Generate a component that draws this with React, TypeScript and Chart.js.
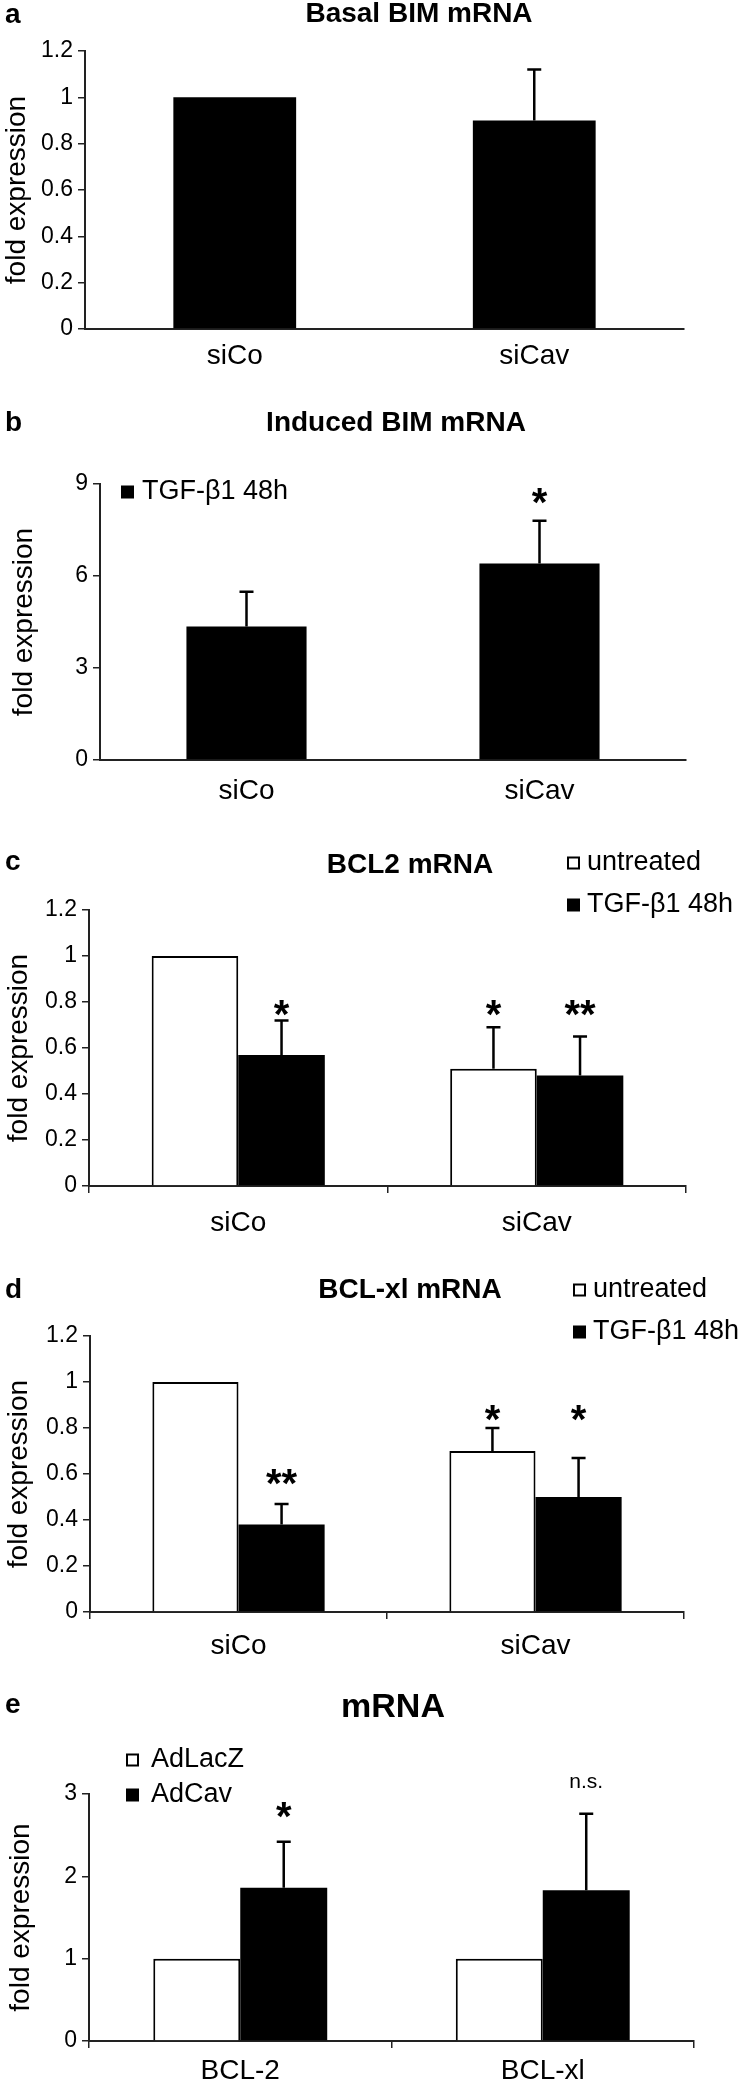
import React, { useEffect, useRef } from "react";
import { Chart, registerables } from "chart.js";

Chart.register(...registerables);

const FONT = '"Liberation Sans", Arial, Helvetica, sans-serif';
const W = 743;

// ---------- data ----------
// Panel a: Basal BIM mRNA
const catsA = ["siCo", "siCav"];
const basalBim = [1.0, 0.9];
const basalBimErr = [0, 0.22];
const yTicksA = [0, 0.2, 0.4, 0.6, 0.8, 1, 1.2];

// Panel b: Induced BIM mRNA
const catsB = ["siCo", "siCav"];
const inducedBim = [4.35, 6.41];
const inducedBimErr = [1.14, 1.39];
const yTicksB = [0, 3, 6, 9];

// Panel c: BCL2 mRNA
const catsC = ["siCo", "siCav"];
const bcl2Untreated = [1.0, 0.51];
const bcl2UntreatedErr = [0, 0.18];
const bcl2Tgf = [0.57, 0.48];
const bcl2TgfErr = [0.15, 0.17];
const yTicksC = [0, 0.2, 0.4, 0.6, 0.8, 1, 1.2];

// Panel d: BCL-xl mRNA
const catsD = ["siCo", "siCav"];
const bclxlUntreated = [1.0, 0.7];
const bclxlUntreatedErr = [0, 0.1];
const bclxlTgf = [0.38, 0.5];
const bclxlTgfErr = [0.09, 0.17];
const yTicksD = [0, 0.2, 0.4, 0.6, 0.8, 1, 1.2];

// Panel e: mRNA (adenoviral)
const catsE = ["BCL-2", "BCL-xl"];
const adLacZ = [1.0, 1.0];
const adLacZErr = [0, 0];
const adCav = [1.86, 1.83];
const adCavErr = [0.56, 0.93];
const yTicksE = [0, 1, 2, 3];

// significance marks (series index, category index, text, level in data units)
const marksB = [{ s: 0, i: 1, text: "*", at: 8.7 }];
const marksC = [
  { s: 1, i: 0, text: "*", at: 0.79 },
  { s: 0, i: 1, text: "*", at: 0.79 },
  { s: 1, i: 1, text: "**", at: 0.79 },
];
const marksD = [
  { s: 1, i: 0, text: "**", at: 0.6 },
  { s: 0, i: 1, text: "*", at: 0.88 },
  { s: 1, i: 1, text: "*", at: 0.88 },
];
const marksE = [
  { s: 1, i: 0, text: "*", at: 2.85 },
  { s: 1, i: 1, text: "n.s.", at: 3.14 },
];

type Series = { label: string; data: number[]; err: number[]; fill: string };
type Mark = { s: number; i: number; text: string; at: number };
type Panel = {
  top: number;
  height: number;
  letter: string;
  letterY: number;
  title: string;
  titleX: number;
  titleY: number;
  titleSize: number;
  cats: string[];
  series: Series[];
  yTicks: number[];
  axisLeft: number;
  axisRight: number;
  plotTop: number;
  plotBottom: number;
  xTickMarks: boolean;
  xLabelPad: number;
  yTitlePad: number;
  catPct: number;
  legend: { x: number; y: number; dy: number; textX: number } | null;
  marks: Mark[];
};

const panels: Panel[] = [
  {
    top: 0, height: 380, letter: "a", letterY: 15,
    title: "Basal BIM mRNA", titleX: 419, titleY: 14, titleSize: 28,
    cats: catsA,
    series: [{ label: "siRNA", data: basalBim, err: basalBimErr, fill: "#000" }],
    yTicks: yTicksA, axisLeft: 85, axisRight: 684, plotTop: 51, plotBottom: 329,
    xTickMarks: false, xLabelPad: 10, yTitlePad: 0, catPct: 0.41,
    legend: null, marks: [],
  },
  {
    top: 380, height: 420, letter: "b", letterY: 43,
    title: "Induced BIM mRNA", titleX: 396, titleY: 43, titleSize: 28,
    cats: catsB,
    series: [{ label: "TGF-β1 48h", data: inducedBim, err: inducedBimErr, fill: "#000" }],
    yTicks: yTicksB, axisLeft: 100, axisRight: 686, plotTop: 104, plotBottom: 380,
    xTickMarks: false, xLabelPad: 14, yTitlePad: 7, catPct: 0.41,
    legend: { x: 121, y: 112, dy: 0, textX: 142 }, marks: marksB,
  },
  {
    top: 800, height: 440, letter: "c", letterY: 62,
    title: "BCL2 mRNA", titleX: 410, titleY: 65, titleSize: 28,
    cats: catsC,
    series: [
      { label: "untreated", data: bcl2Untreated, err: bcl2UntreatedErr, fill: "#fff" },
      { label: "TGF-β1 48h", data: bcl2Tgf, err: bcl2TgfErr, fill: "#000" },
    ],
    yTicks: yTicksC, axisLeft: 89, axisRight: 686, plotTop: 110, plotBottom: 386,
    xTickMarks: true, xLabelPad: 13, yTitlePad: 2, catPct: 0.58,
    legend: { x: 567, y: 63, dy: 42, textX: 587 }, marks: marksC,
  },
  {
    top: 1240, height: 420, letter: "d", letterY: 50,
    title: "BCL-xl mRNA", titleX: 410, titleY: 50, titleSize: 28,
    cats: catsD,
    series: [
      { label: "untreated", data: bclxlUntreated, err: bclxlUntreatedErr, fill: "#fff" },
      { label: "TGF-β1 48h", data: bclxlTgf, err: bclxlTgfErr, fill: "#000" },
    ],
    yTicks: yTicksD, axisLeft: 90, axisRight: 684, plotTop: 96, plotBottom: 372,
    xTickMarks: true, xLabelPad: 10, yTitlePad: 2, catPct: 0.58,
    legend: { x: 573, y: 50, dy: 42, textX: 593 }, marks: marksD,
  },
  {
    top: 1660, height: 423, letter: "e", letterY: 45,
    title: "mRNA", titleX: 393, titleY: 48, titleSize: 34,
    cats: catsE,
    series: [
      { label: "AdLacZ", data: adLacZ, err: adLacZErr, fill: "#fff" },
      { label: "AdCav", data: adCav, err: adCavErr, fill: "#000" },
    ],
    yTicks: yTicksE, axisLeft: 89, axisRight: 694, plotTop: 134, plotBottom: 381,
    xTickMarks: true, xLabelPad: 6, yTitlePad: 4, catPct: 0.575,
    legend: { x: 126, y: 100, dy: 35, textX: 151 }, marks: marksE,
  },
];

function extrasPlugin(p: Panel) {
  return {
    id: "extras" + p.letter,
    afterDraw(chart: any) {
      const ctx: CanvasRenderingContext2D = chart.ctx;
      const ys = chart.scales.y;
      ctx.save();
      // error bars (upper only)
      p.series.forEach((s, si) => {
        const meta = chart.getDatasetMeta(si);
        meta.data.forEach((bar: any, i: number) => {
          const e = s.err[i];
          if (!e) return;
          const y0 = ys.getPixelForValue(s.data[i]);
          const y1 = ys.getPixelForValue(s.data[i] + e);
          ctx.strokeStyle = "#000";
          ctx.lineWidth = 2.5;
          ctx.beginPath();
          ctx.moveTo(bar.x, y0);
          ctx.lineTo(bar.x, y1);
          ctx.moveTo(bar.x - 7, y1);
          ctx.lineTo(bar.x + 7, y1);
          ctx.stroke();
        });
      });
      // significance marks
      ctx.fillStyle = "#000";
      ctx.textAlign = "center";
      p.marks.forEach((m) => {
        const bar = chart.getDatasetMeta(m.s).data[m.i];
        const cy = ys.getPixelForValue(m.at);
        if (m.text.startsWith("*")) {
          const size = 40;
          ctx.font = `bold ${size}px ${FONT}`;
          ctx.textBaseline = "alphabetic";
          ctx.fillText(m.text, bar.x, cy + 0.58 * size);
        } else {
          ctx.font = `21px ${FONT}`;
          ctx.textBaseline = "middle";
          ctx.fillText(m.text, bar.x, cy);
        }
      });
      // panel letter
      ctx.textAlign = "left";
      ctx.textBaseline = "middle";
      ctx.font = `bold 28px ${FONT}`;
      ctx.fillText(p.letter, 5, p.letterY);
      // title
      ctx.textAlign = "center";
      ctx.font = `bold ${p.titleSize}px ${FONT}`;
      ctx.fillText(p.title, p.titleX, p.titleY);
      // legend
      if (p.legend) {
        const L = p.legend;
        ctx.textAlign = "left";
        ctx.font = `27px ${FONT}`;
        p.series.forEach((s, k) => {
          const y = L.y + k * L.dy;
          const sz = 13;
          if (s.fill === "#000") {
            ctx.fillStyle = "#000";
            ctx.fillRect(L.x, y - sz / 2, sz, sz);
          } else {
            ctx.fillStyle = "#fff";
            ctx.fillRect(L.x, y - sz / 2, sz, sz);
            ctx.strokeStyle = "#000";
            ctx.lineWidth = 2;
            ctx.strokeRect(L.x + 1, y - sz / 2 + 1, sz - 2, sz - 2);
          }
          ctx.fillStyle = "#000";
          ctx.fillText(s.label, L.textX, y);
        });
      }
      ctx.restore();
    },
  };
}

function buildConfig(p: Panel): any {
  const yMax = p.yTicks[p.yTicks.length - 1];
  return {
    type: "bar",
    data: {
      labels: p.cats,
      datasets: p.series.map((s) => ({
        label: s.label,
        data: s.data,
        backgroundColor: s.fill,
        borderColor: "#000",
        borderWidth: s.fill === "#fff" ? 2 : 0,
        borderSkipped: "start",
        categoryPercentage: p.catPct,
        barPercentage: 1,
      })),
    },
    options: {
      responsive: false,
      maintainAspectRatio: false,
      animation: false,
      devicePixelRatio: 1,
      layout: { padding: { left: 0, top: p.plotTop, right: W - p.axisRight, bottom: 0 } },
      plugins: {
        legend: { display: false },
        tooltip: { enabled: false },
        title: { display: false },
      },
      scales: {
        x: {
          type: "category",
          offset: true,
          grid: {
            display: p.xTickMarks,
            drawOnChartArea: false,
            drawTicks: p.xTickMarks,
            tickLength: 7,
            color: "#222",
            lineWidth: 1.5,
            offset: true,
          },
          border: { display: true, color: "#222", width: 2 },
          ticks: {
            color: "#000",
            font: { family: FONT, size: 28 },
            padding: p.xLabelPad,
            maxRotation: 0,
            autoSkip: false,
          },
          afterFit: (s: any) => {
            s.height = p.height - p.plotBottom;
          },
        },
        y: {
          min: 0,
          max: yMax,
          afterBuildTicks: (s: any) => {
            s.ticks = p.yTicks.map((v) => ({ value: v }));
          },
          grid: {
            drawOnChartArea: false,
            drawTicks: true,
            tickLength: 7,
            color: "#222",
            lineWidth: 1.5,
          },
          border: { display: true, color: "#222", width: 2 },
          ticks: {
            color: "#000",
            font: { family: FONT, size: 23 },
            padding: 5,
            callback: (v: any) => String(Number(Number(v).toFixed(2))),
          },
          title: {
            display: true,
            text: "fold expression",
            color: "#000",
            font: { family: FONT, size: 28 },
            padding: { top: p.yTitlePad, bottom: 0 },
          },
          afterFit: (s: any) => {
            s.width = p.axisLeft;
          },
        },
      },
    },
    plugins: [extrasPlugin(p)],
  };
}

function PanelChart({ p }: { p: Panel }) {
  const ref = useRef<HTMLCanvasElement>(null);
  useEffect(() => {
    const chart = new Chart(ref.current as HTMLCanvasElement, buildConfig(p));
    return () => chart.destroy();
  }, [p]);
  return (
    <canvas
      ref={ref}
      width={W}
      height={p.height}
      style={{ position: "absolute", left: 0, top: p.top, width: W, height: p.height, display: "block" }}
    />
  );
}

export default function App() {
  return (
    <div
      style={{
        position: "absolute",
        left: 0,
        top: 0,
        width: W,
        height: 2083,
        background: "#fff",
        overflow: "hidden",
      }}
    >
      {panels.map((p) => (
        <PanelChart key={p.letter} p={p} />
      ))}
    </div>
  );
}
